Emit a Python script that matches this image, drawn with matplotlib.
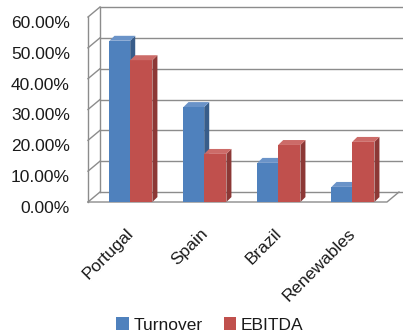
import matplotlib.pyplot as plt
from matplotlib.patches import Polygon, Patch
from matplotlib.transforms import ScaledTranslation
import numpy as np

plt.rcParams['font.family'] = ['Liberation Sans', 'DejaVu Sans']

# donnees
categories = ['Portugal', 'Spain', 'Brazil', 'Renewables']
turnover = [52.3, 30.8, 12.7, 4.9]
ebitda = [46.0, 15.6, 18.5, 19.5]
yticks = [0, 10, 20, 30, 40, 50, 60]

bleu = ('#4F81BD', '#385D8A', '#6A93C8')     # face, cote, dessus
rouge = ('#C0504D', '#8C3836', '#CC6B68')
gris = '#8C8C8C'
texte = '#1a1a1a'

fig = plt.figure(figsize=(4.03, 3.33), dpi=100)
ax = fig.add_axes([88/403, 131/333, 299/403, 185/333])
x0, x1 = -0.57, 3.47
ax.set_xlim(x0, x1)
ax.set_ylim(0, 60)

# decalage de profondeur (murs) et des barres
du, dv = 0.162, 3.24
bdu, bdv = 0.068, 1.6

# mur du fond + grille
for v in yticks:
    ax.plot([x0+du, x1+du+0.2], [v+dv, v+dv], color=gris, lw=1, clip_on=False, zorder=1)
    ax.plot([x0, x0+du], [v, v+dv], color=gris, lw=1, clip_on=False, zorder=1)
ax.plot([x0, x0], [0, 60], color=gris, lw=1, clip_on=False, zorder=1)
ax.plot([x0+du, x0+du], [dv, 60+dv], color=gris, lw=1, clip_on=False, zorder=1)
# sol
ax.plot([x0, x1, x1+du], [0, 0, dv], color=gris, lw=1, clip_on=False, zorder=1)

def barre3d(xc, largeur, h, couleurs, z):
    xl, xr = xc - largeur/2, xc + largeur/2
    ax.bar(xc, h, width=largeur, color=couleurs[0], zorder=z, clip_on=False)
    cote = Polygon([(xr, 0), (xr+bdu, bdv), (xr+bdu, h+bdv), (xr, h)],
                   closed=True, facecolor=couleurs[1], edgecolor='none', zorder=z, clip_on=False)
    dessus = Polygon([(xl, h), (xl+bdu, h+bdv), (xr+bdu, h+bdv), (xr, h)],
                     closed=True, facecolor=couleurs[2], edgecolor='none', zorder=z, clip_on=False)
    ax.add_patch(cote)
    ax.add_patch(dessus)

w = 0.28
for i in range(len(categories)):
    barre3d(i - w/2, w, turnover[i], bleu, 2 + 2*i)
    barre3d(i + w/2 + 0.01, w + 0.02, ebitda[i], rouge, 3 + 2*i)

for s in ax.spines.values():
    s.set_visible(False)
ax.set_yticks(yticks)
ax.set_yticklabels(['%.2f%%' % v for v in yticks], fontsize=12.5, color=texte)
ax.tick_params(axis='y', length=0, pad=13)
decale = ScaledTranslation(0, -5/100, fig.dpi_scale_trans)
for lab in ax.get_yticklabels():
    lab.set_transform(lab.get_transform() + decale)
ax.set_xticks(np.arange(len(categories)) - 0.06)
ax.set_xticklabels(categories, rotation=45, ha='right', rotation_mode='anchor',
                   fontsize=12.5, color=texte)
ax.tick_params(axis='x', length=0, pad=17)

poignees = [Patch(facecolor=bleu[0], label='Turnover'),
            Patch(facecolor=rouge[0], label='EBITDA')]
fig.legend(handles=poignees, loc='center', bbox_to_anchor=(210/403, 1 - 325/333),
           ncol=2, frameon=False, fontsize=12.5, handlelength=0.7, handleheight=0.7,
           handletextpad=0.3, columnspacing=1.2, labelcolor=texte)

fig.savefig('out.png', dpi=100)
